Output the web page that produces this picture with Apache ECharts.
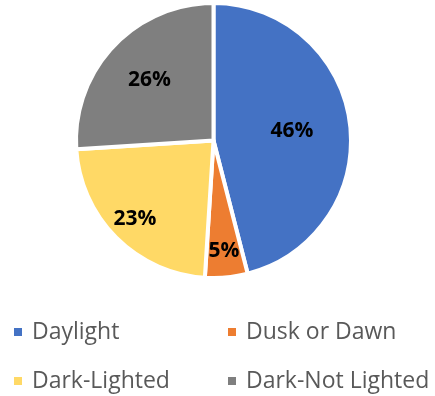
<!DOCTYPE html>
<html><head><meta charset="utf-8">
<script src="https://cdn.jsdelivr.net/npm/echarts@6/dist/echarts.min.js"></script>
<style>html,body{margin:0;padding:0;background:#fff}#c{width:435px;height:396px}</style>
</head><body><div id="c"></div>
<script>
var categories = ['Daylight', 'Dusk or Dawn', 'Dark-Lighted', 'Dark-Not Lighted'];
var values = [46, 5, 23, 26];
var colors = ['#4472C4', '#ED7D31', '#FFD966', '#7F7F7F'];
var labelRadius = [79, 111, 111, 88];
var CX = 213.5, CY = 140.5;

var total = values.reduce(function(a, b){ return a + b; }, 0);
var midAngles = [];
(function(){
  var acc = 0;
  for (var i = 0; i < values.length; i++) {
    midAngles.push((acc + values[i] / 2) / total * Math.PI * 2);
    acc += values[i];
  }
})();

var chart = echarts.init(document.getElementById('c'), null, {renderer: 'canvas'});
var legendText = {fontFamily: 'Open Sans', fontSize: 23, color: '#595959', lineHeight: 24, padding: [0, 0, 0, 4]};
chart.setOption({
  animation: false,
  color: colors,
  legend: [
    {orient: 'vertical', left: 12, top: 320, height: 76, padding: 0, itemWidth: 10, itemHeight: 10, itemGap: 25, icon: 'rect',
     data: [categories[0], categories[2]], textStyle: legendText},
    {orient: 'vertical', left: 226, top: 320, height: 76, padding: 0, itemWidth: 10, itemHeight: 10, itemGap: 25, icon: 'rect',
     data: [categories[1], categories[3]], textStyle: legendText}
  ],
  series: [{
    type: 'pie',
    center: [CX, CY],
    radius: [0, 137.5],
    startAngle: 90,
    clockwise: true,
    itemStyle: {borderColor: '#fff', borderWidth: 4},
    label: {show: true, position: 'inside', formatter: '{c}%', fontFamily: 'Open Sans', fontWeight: 'bold', fontSize: 21, color: '#000'},
    labelLine: {show: false},
    labelLayout: function(p){
      var i = p.dataIndex, a = midAngles[i], r = labelRadius[i];
      return {x: CX + r * Math.sin(a), y: CY - r * Math.cos(a), align: 'center', verticalAlign: 'middle'};
    },
    emphasis: {disabled: true},
    data: categories.map(function(n, i){ return {name: n, value: values[i]}; })
  }]
});
</script></body></html>
